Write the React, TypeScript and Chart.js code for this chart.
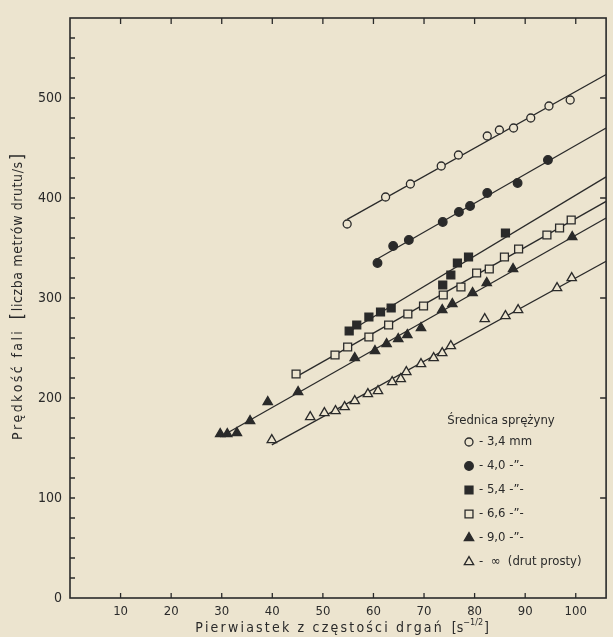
import React, { useEffect, useRef } from 'react';
import { Chart, registerables } from 'chart.js';

Chart.register(...registerables);

// ---- data ----
const s34X = [54.8, 62.4, 67.3, 73.4, 76.8, 82.5, 84.9, 87.7, 91.1, 94.7, 98.9];
const s34Y = [374, 401, 414, 432, 443, 462, 468, 470, 480, 492, 498];

const s40X = [60.8, 63.9, 67.0, 73.7, 76.9, 79.1, 82.5, 88.5, 94.5];
const s40Y = [335, 352, 358, 376, 386, 392, 405, 415, 438];

const s54X = [55.2, 56.7, 59.1, 61.4, 63.5, 73.7, 75.3, 76.6, 78.8, 86.1];
const s54Y = [267, 273, 281, 286, 290, 313, 323, 335, 341, 365];

const s66X = [44.7, 52.4, 54.9, 59.1, 63.0, 66.8, 69.9, 73.8, 77.3, 80.4, 82.9, 85.9, 88.7, 94.3, 96.8, 99.1];
const s66Y = [224, 243, 251, 261, 273, 284, 292, 303, 311, 325, 329, 341, 349, 363, 370, 378];

const s90X = [29.7, 31.1, 33.0, 35.6, 39.1, 45.1, 56.3, 60.3, 62.6, 64.9, 66.7, 69.4, 73.6, 75.6, 79.6, 82.4, 87.6, 99.3];
const s90Y = [164, 164, 165, 177, 196, 206, 240, 247, 254, 259, 263, 270, 288, 294, 305, 315, 329, 361];

const sInfX = [39.9, 47.5, 50.3, 52.5, 54.3, 56.3, 58.9, 60.9, 63.7, 65.4, 66.5, 69.4, 71.9, 73.6, 75.3, 82.0, 86.1, 88.6, 96.3, 99.2];
const sInfY = [158, 181, 185, 187, 191, 197, 204, 207, 216, 219, 226, 234, 240, 245, 252, 279, 282, 288, 310, 320];

const seriesNames = ['3,4 mm', '4,0 mm', '5,4 mm', '6,6 mm', '9,0 mm', '∞ (drut prosty)'];
const legendTexts = ['- 3,4 mm', '- 4,0 -\u201D-', '- 5,4 -\u201D-', '- 6,6 -\u201D-', '- 9,0 -\u201D-', '-  \u221E  (drut prosty)'];
const legendTitle = 'Średnica sprężyny';
const xTitle = 'Pierwiastek z częstości drgań';
const xUnitBase = 's';
const xUnitExp = '\u22121/2';
const yTitleA = 'Prędkość fali';
const yTitleB = 'liczba metrów drutu/s';

const X_MIN = 0;
const X_MAX = 106;
const Y_MIN = 0;
const Y_MAX = 580;

const PAPER = '#ece4cf';
const INK = '#2a2a2a';
const FONT = '"DejaVu Sans Condensed", "DejaVu Sans", sans-serif';

type Style = { shape: 'circle' | 'rect' | 'triangle'; filled: boolean; r: number };
const styles: Style[] = [
  { shape: 'circle', filled: false, r: 4 },
  { shape: 'circle', filled: true, r: 4.3 },
  { shape: 'rect', filled: true, r: 5.6 },
  { shape: 'rect', filled: false, r: 5.6 },
  { shape: 'triangle', filled: true, r: 5.4 },
  { shape: 'triangle', filled: false, r: 5.4 },
];

const allX = [s34X, s40X, s54X, s66X, s90X, sInfX];
const allY = [s34Y, s40Y, s54Y, s66Y, s90Y, sInfY];

function fitLine(xs: number[], ys: number[]) {
  const n = xs.length;
  const mx = xs.reduce((a, b) => a + b, 0) / n;
  const my = ys.reduce((a, b) => a + b, 0) / n;
  let sxy = 0, sxx = 0;
  for (let i = 0; i < n; i++) {
    sxy += (xs[i] - mx) * (ys[i] - my);
    sxx += (xs[i] - mx) * (xs[i] - mx);
  }
  const b = sxy / sxx;
  const a = my - b * mx;
  const x0 = Math.min(...xs);
  return [
    { x: x0, y: a + b * x0 },
    { x: X_MAX, y: a + b * X_MAX },
  ];
}

function drawMarker(ctx: CanvasRenderingContext2D, st: Style, x: number, y: number) {
  ctx.save();
  ctx.beginPath();
  const r = st.r;
  if (st.shape === 'circle') {
    ctx.arc(x, y, r, 0, Math.PI * 2);
  } else if (st.shape === 'rect') {
    const s = Math.SQRT1_2 * r;
    ctx.rect(x - s, y - s, 2 * s, 2 * s);
  } else {
    let rad = 0;
    ctx.moveTo(x + Math.sin(rad) * r, y - Math.cos(rad) * r);
    rad += (2 * Math.PI) / 3;
    ctx.lineTo(x + Math.sin(rad) * r, y - Math.cos(rad) * r);
    rad += (2 * Math.PI) / 3;
    ctx.lineTo(x + Math.sin(rad) * r, y - Math.cos(rad) * r);
    ctx.closePath();
  }
  ctx.fillStyle = st.filled ? INK : PAPER;
  ctx.fill();
  ctx.lineWidth = 1.3;
  ctx.strokeStyle = INK;
  ctx.stroke();
  ctx.restore();
}

function spacedText(ctx: CanvasRenderingContext2D, text: string, x: number, y: number, spacing: number) {
  // draws text left-aligned with manual letter spacing, returns end x
  let cx = x;
  for (const ch of Array.from(text)) {
    ctx.fillText(ch, cx, y);
    cx += ctx.measureText(ch).width + spacing;
  }
  return cx - spacing;
}
function spacedWidth(ctx: CanvasRenderingContext2D, text: string, spacing: number) {
  let w = 0;
  const chars = Array.from(text);
  for (const ch of chars) w += ctx.measureText(ch).width + spacing;
  return w - spacing;
}

const paperPlugin = {
  id: 'paper',
  beforeDraw(chart: any) {
    const { ctx, width, height } = chart;
    ctx.save();
    ctx.fillStyle = PAPER;
    ctx.fillRect(0, 0, width, height);
    ctx.restore();
  },
  afterDraw(chart: any) {
    const { ctx, chartArea } = chart;
    const { left, right, top, bottom } = chartArea;
    const xs = chart.scales.x;
    const ys = chart.scales.y;
    ctx.save();
    ctx.strokeStyle = INK;
    // frame
    ctx.lineWidth = 1.6;
    ctx.strokeRect(left, top, right - left, bottom - top);
    // ticks
    ctx.lineWidth = 1.3;
    ctx.beginPath();
    for (const t of xs.ticks) {
      if (t.value <= X_MIN || t.value >= X_MAX) continue;
      const px = xs.getPixelForValue(t.value);
      ctx.moveTo(px, bottom);
      ctx.lineTo(px, bottom - 5);
      ctx.moveTo(px, top);
      ctx.lineTo(px, top + 6);
    }
    for (const t of ys.ticks) {
      if (t.value <= Y_MIN || t.value >= Y_MAX) continue;
      const py = ys.getPixelForValue(t.value);
      ctx.moveTo(left, py);
      ctx.lineTo(left + 5, py);
      if (t.value % 100 === 0) {
        ctx.moveTo(right, py);
        ctx.lineTo(right - 6, py);
      }
    }
    ctx.stroke();

    ctx.fillStyle = INK;
    // x title
    ctx.font = `14px ${FONT}`;
    ctx.textBaseline = 'alphabetic';
    ctx.textAlign = 'left';
    const sp = 2.2;
    const wMain = spacedWidth(ctx, xTitle, sp);
    ctx.font = `14px ${FONT}`;
    const wBase = ctx.measureText('[' + xUnitBase).width;
    ctx.font = `9px ${FONT}`;
    const wExp = ctx.measureText(xUnitExp).width;
    ctx.font = `14px ${FONT}`;
    const wClose = ctx.measureText(']').width;
    const gap = 10;
    const total = wMain + gap + wBase + wExp + wClose + 1;
    let cx = (left + right) / 2 + 4 - total / 2;
    const by = 632;
    spacedText(ctx, xTitle, cx, by, sp);
    cx += wMain + gap;
    ctx.fillText('[' + xUnitBase, cx, by);
    cx += wBase;
    ctx.font = `9px ${FONT}`;
    ctx.fillText(xUnitExp, cx, by - 7);
    cx += wExp + 1;
    ctx.font = `14px ${FONT}`;
    ctx.fillText(']', cx, by);

    // y title (rotated)
    ctx.save();
    ctx.translate(22, 297);
    ctx.rotate(-Math.PI / 2);
    ctx.font = `14px ${FONT}`;
    const spA = 2.4;
    const wA = spacedWidth(ctx, yTitleA, spA);
    const spB = 0.6;
    const wB = spacedWidth(ctx, yTitleB, spB);
    ctx.font = `17px ${FONT}`;
    const wBr = ctx.measureText('[').width;
    const gapY = 12;
    const totY = wA + gapY + wBr + 2 + wB + 2 + wBr;
    let ty = -totY / 2;
    ctx.font = `14px ${FONT}`;
    spacedText(ctx, yTitleA, ty, 0, spA);
    ty += wA + gapY;
    ctx.font = `17px ${FONT}`;
    ctx.fillText('[', ty, 1);
    ty += wBr + 2;
    ctx.font = `14px ${FONT}`;
    spacedText(ctx, yTitleB, ty, 0, spB);
    ty += wB + 2;
    ctx.font = `17px ${FONT}`;
    ctx.fillText(']', ty, 1);
    ctx.restore();

    // legend
    ctx.font = `13px ${FONT}`;
    ctx.textAlign = 'center';
    ctx.textBaseline = 'middle';
    ctx.fillText(legendTitle, 501, 421);
    ctx.textAlign = 'left';
    for (let i = 0; i < legendTexts.length; i++) {
      const yy = 442 + i * 24;
      drawMarker(ctx, styles[i], 469, yy);
      ctx.fillStyle = INK;
      ctx.font = `13px ${FONT}`;
      ctx.fillText(legendTexts[i], 479, yy);
    }
    ctx.restore();
  },
};

export default function App() {
  const ref = useRef<HTMLCanvasElement | null>(null);
  useEffect(() => {
    if (!ref.current) return;
    const pointDatasets = allX.map((xs, i) => ({
      type: 'scatter' as const,
      label: seriesNames[i],
      data: xs.map((x, j) => ({ x, y: allY[i][j] })),
      pointStyle: styles[i].shape,
      pointRadius: styles[i].r,
      pointBackgroundColor: styles[i].filled ? INK : PAPER,
      pointBorderColor: INK,
      pointBorderWidth: 1.3,
      showLine: false,
      order: 1,
    }));
    const lineDatasets = allX.map((xs, i) => ({
      type: 'line' as const,
      label: seriesNames[i] + ' (fit)',
      data: fitLine(xs, allY[i]),
      borderColor: INK,
      borderWidth: 1.3,
      pointRadius: 0,
      fill: false,
      tension: 0,
      order: 2,
    }));
    const chart = new Chart(ref.current, {
      type: 'scatter',
      data: { datasets: [...lineDatasets, ...pointDatasets] as any },
      options: {
        animation: false,
        responsive: false,
        maintainAspectRatio: false,
        devicePixelRatio: 1,
        layout: { padding: { top: 18, right: 1, left: 0, bottom: 0 } },
        plugins: {
          legend: { display: false },
          tooltip: { enabled: false },
        },
        events: [],
        scales: {
          x: {
            type: 'linear',
            min: X_MIN,
            max: X_MAX,
            grid: { display: false, drawTicks: false },
            border: { display: false },
            ticks: {
              stepSize: 10,
              includeBounds: false,
              padding: 6,
              color: INK,
              font: { family: FONT, size: 13 },
              maxRotation: 0,
              autoSkip: false,
              callback: (v: any) => (v === 0 ? '' : String(v)),
            },
            afterFit: (s: any) => {
              s.height = 39;
            },
          },
          y: {
            type: 'linear',
            min: Y_MIN,
            max: Y_MAX,
            grid: { display: false, drawTicks: false },
            border: { display: false },
            ticks: {
              stepSize: 20,
              padding: 8,
              color: INK,
              autoSkip: false,
              font: { family: FONT, size: 14 },
              callback: (v: any) => (v % 100 === 0 ? String(v) : ''),
            },
            afterFit: (s: any) => {
              s.width = 70;
            },
          },
        },
      } as any,
      plugins: [paperPlugin],
    });
    return () => chart.destroy();
  }, []);
  return (
    <div style={{ position: 'fixed', left: 0, top: 0, width: 613, height: 637, background: PAPER }}>
      <canvas ref={ref} width={613} height={637} style={{ display: 'block', width: 613, height: 637 }} />
    </div>
  );
}
